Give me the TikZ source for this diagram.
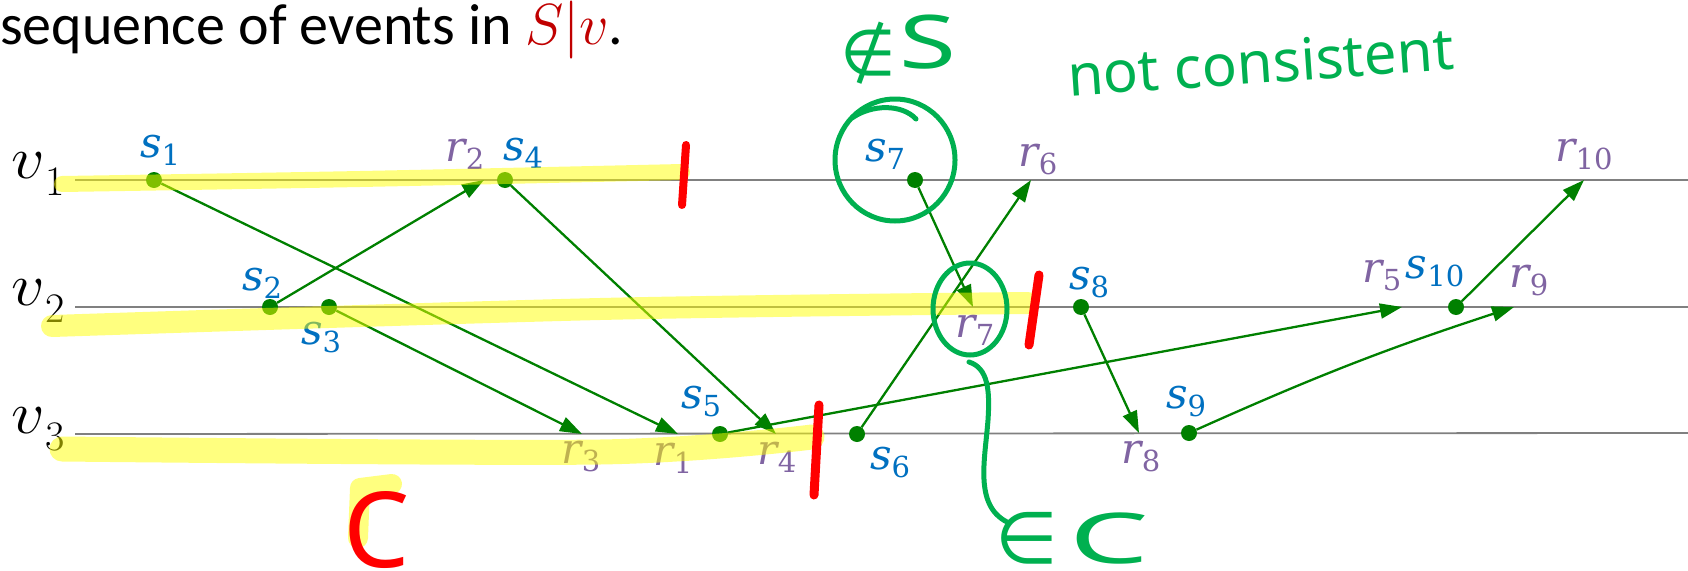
\RequirePackage{fix-cm}
\documentclass[tikz,border=0pt]{standalone}
\usepackage{fontspec}
\usepackage{graphicx}
\newfontfamily\titlefont{Carlito}
\newfontfamily\inkfont{Noto Sans}
\newfontfamily\symfont{DejaVu Sans}
\newfontfamily\labfont{DejaVu Serif}
\usetikzlibrary{arrows.meta}
\definecolor{sblue}{HTML}{0070C0}
\definecolor{rpurple}{HTML}{8064A2}
\definecolor{msggreen}{HTML}{008000}
\definecolor{inkgreen}{HTML}{00B050}
\definecolor{titlered}{HTML}{C00000}
\definecolor{procgray}{HTML}{808080}
\definecolor{hlyellow}{HTML}{FFFF00}
\definecolor{penred}{HTML}{FF0000}
\tikzset{
  proc/.style={draw=procgray, line width=1.8pt},
  evdot/.style={circle, fill=msggreen, inner sep=0pt, minimum size=16pt},
  msg/.style={draw=msggreen, line width=2.3pt, -{Triangle[length=22pt,width=15pt]}},
  evlab/.style={inner sep=0pt, font=\labfont\fontsize{42}{46}\selectfont},
  slab/.style={evlab, text=sblue},
  rlab/.style={evlab, text=rpurple},
  vlab/.style={inner sep=0pt, anchor=base west, font=\fontsize{60}{64}\selectfont},
  hilite/.style={draw=hlyellow, draw opacity=0.5, line cap=round, line join=round},
  penmark/.style={draw=penred, line width=8pt, line cap=round},
  ink/.style={draw=inkgreen, line width=5pt, line cap=round, line join=round},
  inktext/.style={text=inkgreen, inner sep=0pt},
}
\newcommand{\evl}[2]{{\itshape #1}\raisebox{-8pt}{\fontsize{29}{31}\selectfont #2}}
\newcommand{\vlabel}[1]{\scalebox{1.1}[1]{$v$}\hspace{1pt}\raisebox{-17pt}{\fontsize{42}{44}\selectfont #1}}
\begin{document}
\begin{tikzpicture}[x=1pt,y=-1pt]
\useasboundingbox (0,0) rectangle (1688,570);
% title
\node[anchor=base west, inner sep=0pt, font=\titlefont\fontsize{58}{70}\selectfont] (title) at (0,44)
  {sequence of events in \textcolor{titlered}{$S|v$}.};
% process lines
\coordinate (v1s) at (75,180); \coordinate (v1e) at (1688,180);
\coordinate (v2s) at (75,307); \coordinate (v2e) at (1688,307);
\coordinate (v3s) at (75,434); \coordinate (v3e) at (1688,433);
\draw[proc] (v1s) -- (v1e);
\draw[proc] (v2s) -- (v2e);
\draw[proc] (v3s) -- (v3e);
\node[vlab] (v1) at (11,178) {\vlabel{1}};
\node[vlab] (v2) at (11,305) {\vlabel{2}};
\node[vlab] (v3) at (11,433) {\vlabel{3}};
% send events
\node[evdot] (s1) at (154,180) {};
\node[evdot] (s2) at (270,307) {};
\node[evdot] (s3) at (329,307) {};
\node[evdot] (s4) at (505,180) {};
\node[evdot] (s5) at (720,434) {};
\node[evdot] (s6) at (857,434) {};
\node[evdot] (s7) at (915,180) {};
\node[evdot] (s8) at (1081,307) {};
\node[evdot] (s9) at (1189,433) {};
\node[evdot] (s10) at (1456,307) {};
% receive events
\coordinate (r1) at (678,434);
\coordinate (r2) at (484,180);
\coordinate (r3) at (582,434);
\coordinate (r4) at (776,434);
\coordinate (r5) at (1402,307);
\coordinate (r6) at (1031,180);
\coordinate (r7) at (973,307);
\coordinate (r8) at (1139,433);
\coordinate (r9) at (1514,307);
\coordinate (r10) at (1584,180);
% messages
\draw[msg] (s1) -- (r1);
\draw[msg] (s2) -- (r2);
\draw[msg] (s3) -- (r3);
\draw[msg] (s4) -- (r4);
\draw[msg] (s5) -- (r5);
\draw[msg] (s6) -- (r6);
\draw[msg] (s7) -- (r7);
\draw[msg] (s8) -- (r8);
\draw[msg] (s9) to[bend left=3] (r9);
\draw[msg] (s10) -- (r10);
% labels
\node[slab] (ls1) at (160,150) {\evl{s}{1}};
\node[slab] (ls2) at (262,283) {\evl{s}{2}};
\node[slab] (ls3) at (321,338) {\evl{s}{3}};
\node[slab] (ls4) at (523,153) {\evl{s}{4}};
\node[slab] (ls5) at (701,402) {\evl{s}{5}};
\node[slab] (ls6) at (890,463) {\evl{s}{6}};
\node[slab] (ls7) at (885,154) {\evl{s}{7}};
\node[slab] (ls8) at (1089,283) {\evl{s}{8}};
\node[slab] (ls9) at (1186,402) {\evl{s}{9}};
\node[slab] (ls10) at (1435,272) {\evl{s}{10}};
\node[rlab] (lr1) at (673,458) {\evl{r}{1}};
\node[rlab] (lr2) at (465,154) {\evl{r}{2}};
\node[rlab] (lr3) at (581,457) {\evl{r}{3}};
\node[rlab] (lr4) at (777,457) {\evl{r}{4}};
\node[rlab] (lr5) at (1382,276) {\evl{r}{5}};
\node[rlab] (lr6) at (1038,160) {\evl{r}{6}};
\node[rlab] (lr7) at (975,330) {\evl{r}{7}};
\node[rlab] (lr8) at (1141,457) {\evl{r}{8}};
\node[rlab] (lr9) at (1529,281) {\evl{r}{9}};
\node[rlab] (lr10) at (1584,155) {\evl{r}{10}};
% highlighter strokes
\draw[hilite, line width=16pt] plot[smooth] coordinates {(62,184) (360,179) (682,172)};
\draw[hilite, line width=22pt] plot[smooth] coordinates {(52,326) (600,309) (1028,303)};
\draw[hilite, line width=25pt] plot[smooth] coordinates {(62,449) (600,452) (812,437)};
\draw[hilite, line width=20pt] (392,484) -- (360,488) -- (358,538);
% red cut marks
\coordinate (cut1a) at (686,145); \coordinate (cut1b) at (682,205);
\coordinate (cut2a) at (1039,275); \coordinate (cut2b) at (1029,345);
\coordinate (cut3a) at (819,405); \coordinate (cut3b) at (814,495);
\draw[penmark] (cut1a) -- (cut1b);
\draw[penmark, line width=9pt] (cut2a) -- (cut2b);
\draw[penmark, line width=9pt] (cut3a) -- (cut3b);
\node[inner sep=0pt, text=penred, font=\inkfont\fontsize{105}{105}\selectfont] (redC) at (377,530) {C};
% green annotations
\draw[ink] (895,160) ellipse [x radius=60, y radius=61];
\draw[ink] (852,118) .. controls (872,104) and (902,104) .. (916,119);
\draw[ink] (970,309) ellipse [x radius=37, y radius=46];
\coordinate (tailA) at (969,362);
\coordinate (tailB) at (1007,522);
\draw[ink] (tailA) .. controls (988,368) and (990,390) .. (988,420) .. controls (985,460) and (974,505) .. (tailB);
\node[inktext, anchor=base west] (notS) at (840,75)
  {{\symfont\fontsize{64}{64}\selectfont ∉}\hspace{4pt}\raisebox{7pt}{\scalebox{1.4}[1]{\inkfont\fontsize{74}{74}\selectfont S}}};
\node[inktext, anchor=base, rotate=4, font=\inkfont\fontsize{58}{60}\selectfont] (notcons) at (1262,83) {not consistent};
\node[inktext, anchor=base west] (inC) at (995,563)
  {{\symfont\fontsize{72}{72}\selectfont ∈}\hspace{12pt}\scalebox{1.8}[1]{\inkfont\fontsize{70}{70}\selectfont C}};
\end{tikzpicture}
\end{document}
